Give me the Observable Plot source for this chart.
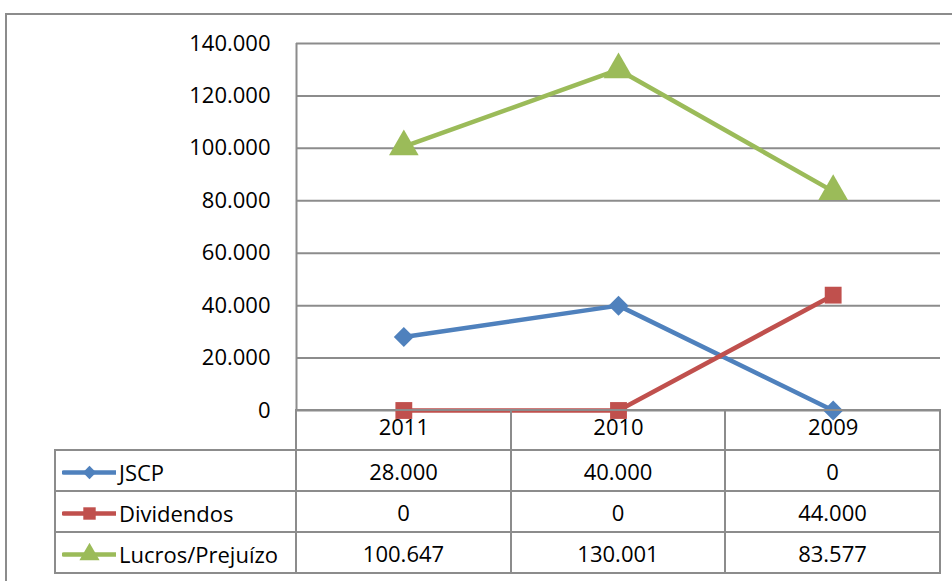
<!DOCTYPE html>
<html><head><meta charset="utf-8">
<script src="https://cdn.jsdelivr.net/npm/d3@7"></script>
<script src="https://cdn.jsdelivr.net/npm/@observablehq/plot@0.6"></script>
<style>
body{margin:0;background:#fff;}
#wrap{position:relative;width:952px;height:581px;overflow:hidden;font-family:"Open Sans",sans-serif;}
#frame{position:absolute;left:5px;top:13px;width:1200px;height:1000px;border:2px solid #8c8c8c;box-sizing:border-box}
#chart{position:absolute;left:0;top:0}
#tbl{position:absolute;left:54px;top:409px;border-collapse:collapse;font-size:22px;color:#000;}
#tbl td{border:2px solid #8c8c8c;padding:0;text-align:center;vertical-align:middle;line-height:1}
#tbl td.lab{text-align:left;white-space:nowrap}
#tbl td.lab svg{display:inline-block;vertical-align:middle;margin-left:6px;margin-right:3px}
#tbl td.lab span{vertical-align:middle}
#tbl tr.hdr td.blank{border-top:none;border-left:none}
</style></head>
<body><div id="wrap"><div id="frame"></div><div id="chart"></div><table id="tbl"></table></div>
<script>
const years = ["2011","2010","2009"];
const seriesNames = ["JSCP","Dividendos","Lucros/Prejuízo"];
const jscp = [28000, 40000, 0];
const dividendos = [0, 0, 44000];
const lucros = [100647, 130001, 83577];
const seriesValues = [jscp, dividendos, lucros];
const colors = ["#4F81BD","#C0504D","#9BBB59"];
const symbols = ["diamond2","square","triangle"];
const markerR = [9, 9.5, 11];
const legendR = [6, 7, 7.5];
const yTicks = [0,20000,40000,60000,80000,100000,120000,140000];

const loc = d3.formatLocale({decimal:",", thousands:".", grouping:[3], currency:["R$",""]});
const fmt = loc.format(",d");

const data = [];
seriesNames.forEach((s,i)=>years.forEach((y,j)=>data.push({serie:s, idx:j+0.5, value:seriesValues[i][j]})));

const font = "'Open Sans', sans-serif";
const chart = Plot.plot({
  width:952, height:452,
  marginLeft:296, marginRight:12, marginTop:43, marginBottom:42,
  style:{fontFamily:font, fontSize:"22px", color:"#000", background:"transparent"},
  x:{type:"linear", domain:[0,3], axis:null},
  y:{domain:[0,140000], axis:null},
  color:{domain:seriesNames, range:colors},
  symbol:{domain:seriesNames, range:symbols},
  marks:[
    Plot.ruleY(yTicks, {stroke:"#8c8c8c", strokeWidth:2}),
    Plot.ruleX([0], {stroke:"#8c8c8c", strokeWidth:2}),
    Plot.axisY(yTicks, {tickSize:0, tickPadding:26, tickFormat:fmt, fontSize:22, label:null, fill:"#000"}),
    Plot.axisX([0.5,1.5,2.5], {tickSize:0, tickPadding:9, tickFormat:d=>years[Math.floor(d)], fontSize:22, label:null, fill:"#000"}),
    Plot.line(data, {x:"idx", y:"value", z:"serie", stroke:"serie", strokeWidth:4.5, strokeLinejoin:"round"}),
    ...seriesNames.map((s,i)=>Plot.dot(data.filter(d=>d.serie===s), {x:"idx", y:"value", symbol:"serie", fill:"serie", r:markerR[i], stroke:null}))
  ]
});
document.getElementById("chart").appendChild(chart);

const tbl = document.getElementById("tbl");
const colW = [240, 213, 212, 213];
let hr = document.createElement("tr"); hr.className="hdr"; hr.style.height="40px";
colW.forEach((w,k)=>{const td=document.createElement("td"); td.style.width=w+"px"; if(k===0) td.className="blank"; hr.appendChild(td);});
tbl.appendChild(hr);
seriesNames.forEach((s,i)=>{
  const tr=document.createElement("tr"); tr.style.height="41px";
  const td0=document.createElement("td"); td0.className="lab";
  const key = Plot.plot({
    width:54, height:22, margin:0, x:{domain:[0,1], axis:null}, y:{domain:[0,1], axis:null},
    style:{background:"transparent"},
    marks:[
      Plot.lineY([{x:0.02,y:0.5},{x:0.98,y:0.5}], {x:"x", y:"y", stroke:colors[i], strokeWidth:4.5, strokeLinecap:"round"}),
      Plot.dot([{x:0.5,y:0.5}], {x:"x", y:"y", symbol:()=>symbols[i], fill:colors[i], r:legendR[i]})
    ]
  });
  td0.appendChild(key);
  const sp=document.createElement("span"); sp.textContent=s; td0.appendChild(sp);
  tr.appendChild(td0);
  seriesValues[i].forEach(v=>{const td=document.createElement("td"); td.textContent=fmt(v); tr.appendChild(td);});
  tbl.appendChild(tr);
});
</script></body></html>
